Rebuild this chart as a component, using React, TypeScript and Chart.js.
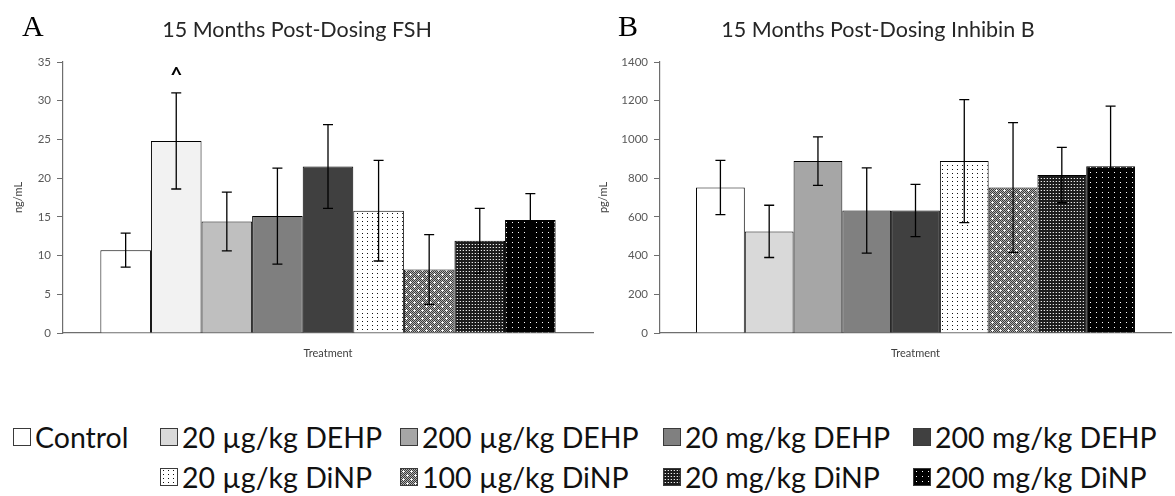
import React, { useEffect, useRef, useMemo } from 'react';
import { Chart, registerables } from 'chart.js';

Chart.register(...registerables);

// ---------- data ----------
const categories = [
  'Control',
  '20 µg/kg DEHP',
  '200 µg/kg DEHP',
  '20 mg/kg DEHP',
  '200 mg/kg DEHP',
  '20 µg/kg DiNP',
  '100 µg/kg DiNP',
  '20 mg/kg DiNP',
  '200 mg/kg DiNP',
];

const fshMeans = [10.7, 24.8, 14.4, 15.1, 21.5, 15.8, 8.2, 11.9, 14.6];
const fshErrors = [2.2, 6.2, 3.8, 6.2, 5.4, 6.5, 4.5, 4.2, 3.4];
const fshSignificant = [false, true, false, false, false, false, false, false, false];

const inhibinMeans = [752, 525, 888, 633, 633, 888, 752, 816, 862];
const inhibinErrors = [140, 135, 125, 220, 135, 318, 335, 143, 310];

const fshTitle = '15 Months Post-Dosing FSH';
const inhibinTitle = '15 Months Post-Dosing Inhibin B';
const fshUnit = 'ng/mL';
const inhibinUnit = 'pg/mL';
const xAxisTitle = 'Treatment';
const fshAxis = { min: 0, max: 35, step: 5 };
const inhibinAxis = { min: 0, max: 1400, step: 200 };

// ---------- styles ----------
const FONT = 'Lato, "Open Sans", sans-serif';
const fshSolid = ['#ffffff', '#f2f2f2', '#bfbfbf', '#7f7f7f', '#404040'];
const inhibinSolid = ['#ffffff', '#d9d9d9', '#a6a6a6', '#808080', '#404040'];
const patternKinds = ['sparseDots', 'checkPlus', 'denseGrid', 'blackDots'];

function makeTile(kind: string): HTMLCanvasElement {
  const c = document.createElement('canvas');
  let w = 4;
  let h = 4;
  if (kind === 'sparseDots') { w = 5; h = 4; }
  if (kind === 'checkPlus') { w = 8; h = 8; }
  if (kind === 'denseGrid') { w = 3; h = 3; }
  if (kind === 'blackDots') { w = 6; h = 5; }
  c.width = w;
  c.height = h;
  const ctx = c.getContext('2d')!;
  const px = (x: number, y: number, col: string) => {
    ctx.fillStyle = col;
    ctx.fillRect(x, y, 1, 1);
  };
  if (kind === 'sparseDots') {
    ctx.fillStyle = '#ffffff';
    ctx.fillRect(0, 0, w, h);
    px(2, 1, '#111111');
  } else if (kind === 'checkPlus') {
    for (let y = 0; y < h; y++)
      for (let x = 0; x < w; x++) px(x, y, (x + y) % 2 === 0 ? '#3a3a3a' : '#b0b0b0');
    const plus = (cx: number, cy: number) => {
      px(cx, cy, '#ffffff');
      px(cx - 1, cy, '#f0f0f0');
      px(cx + 1, cy, '#f0f0f0');
      px(cx, cy - 1, '#f0f0f0');
      px(cx, cy + 1, '#f0f0f0');
    };
    plus(2, 2);
    plus(6, 6);
  } else if (kind === 'denseGrid') {
    ctx.fillStyle = '#1c1c1c';
    ctx.fillRect(0, 0, w, h);
    px(1, 1, '#e8e8e8');
    px(0, 1, '#5a5a5a');
  } else if (kind === 'blackDots') {
    ctx.fillStyle = '#000000';
    ctx.fillRect(0, 0, w, h);
    px(2, 2, '#ffffff');
  }
  return c;
}

function fillFor(i: number, solid: string[], tiles: HTMLCanvasElement[], ctx: CanvasRenderingContext2D) {
  if (i < solid.length) return solid[i];
  return ctx.createPattern(tiles[i - solid.length], 'repeat')!;
}

type PanelProps = {
  letter: string;
  title: string;
  titleX: number;
  letterX: number;
  unit: string;
  means: number[];
  errors: number[];
  marks?: boolean[];
  axis: { min: number; max: number; step: number };
  solid: string[];
  width: number;
  height: number;
  yAxisWidth: number;
  unitPad: number;
  padRight: number;
};

function Panel(props: PanelProps) {
  const ref = useRef<HTMLCanvasElement | null>(null);
  useEffect(() => {
    const canvas = ref.current!;
    const ctx = canvas.getContext('2d')!;
    const tiles = patternKinds.map(makeTile);
    const datasets = categories.map((name, i) => ({
      label: name,
      data: [props.means[i]],
      backgroundColor: fillFor(i, props.solid, tiles, ctx),
      borderColor: '#000000',
      borderWidth: 1,
      categoryPercentage: 0.859,
      barPercentage: 1,
    }));

    const overlay = {
      id: 'overlay',
      afterDatasetsDraw(chart: any) {
        const c = chart.ctx;
        const yScale = chart.scales.y;
        c.save();
        c.strokeStyle = '#000000';
        c.lineWidth = 1.3;
        props.means.forEach((m, i) => {
          const bar = chart.getDatasetMeta(i).data[0];
          const x = bar.x;
          const top = yScale.getPixelForValue(m + props.errors[i]);
          const bot = yScale.getPixelForValue(Math.max(0, m - props.errors[i]));
          c.beginPath();
          c.moveTo(x, top);
          c.lineTo(x, bot);
          c.moveTo(x - 5, top);
          c.lineTo(x + 5, top);
          c.moveTo(x - 5, bot);
          c.lineTo(x + 5, bot);
          c.stroke();
          if (props.marks && props.marks[i]) {
            c.fillStyle = '#000000';
            c.font = 'bold 21px ' + FONT;
            c.textAlign = 'center';
            c.textBaseline = 'middle';
            c.fillText('^', x, top - 18);
          }
        });
        c.restore();
      },
      afterDraw(chart: any) {
        const c = chart.ctx;
        c.save();
        c.fillStyle = '#262626';
        c.font = '21.5px ' + FONT;
        c.textAlign = 'center';
        c.textBaseline = 'middle';
        c.fillText(props.title, props.titleX, 30);
        c.fillStyle = '#000000';
        c.font = '30px "Liberation Serif", "DejaVu Serif", serif';
        c.textAlign = 'left';
        c.fillText(props.letter, props.letterX, 28);
        c.restore();
      },
    };

    const chart = new Chart(canvas, {
      type: 'bar',
      data: { labels: [''], datasets },
      plugins: [overlay],
      options: {
        responsive: false,
        animation: false,
        layout: { padding: { top: 62, right: props.padRight, left: 0, bottom: 0 } },
        plugins: { legend: { display: false }, tooltip: { enabled: false }, title: { display: false } },
        scales: {
          x: {
            ticks: { display: false },
            grid: { display: false },
            border: { display: true, color: '#6e6e6e', width: 1.2 },
            title: {
              display: true,
              text: xAxisTitle,
              color: '#404040',
              font: { family: FONT, size: 11 },
              padding: { top: 0, bottom: 10 },
            },
            afterFit: (s: any) => { s.height = 37; },
          },
          y: {
            min: props.axis.min,
            max: props.axis.max,
            ticks: {
              stepSize: props.axis.step,
              color: '#595959',
              font: { family: FONT, size: 11.5 },
              padding: 6,
              callback: (v: any) => String(v),
            },
            grid: { drawOnChartArea: false, drawTicks: true, tickLength: 6, color: '#6e6e6e' },
            border: { display: true, color: '#6e6e6e', width: 1.2 },
            title: {
              display: true,
              text: props.unit,
              color: '#404040',
              font: { family: FONT, size: 11 },
              padding: { top: props.unitPad, bottom: 0 },
            },
            afterFit: (s: any) => { s.width = props.yAxisWidth; },
          },
        },
      } as any,
    });
    return () => chart.destroy();
  }, []);
  return <canvas ref={ref} width={props.width} height={props.height} style={{ width: props.width, height: props.height, display: 'block' }} />;
}

function Legend() {
  const urls = useMemo(() => patternKinds.map((k) => makeTile(k).toDataURL()), []);
  const rows = [
    { y: 421, items: [0, 1, 2, 3, 4], xs: [13, 160, 400, 663, 913] },
    { y: 461, items: [5, 6, 7, 8], xs: [160, 400, 663, 913] },
  ];
  return (
    <>
      {rows.map((row, r) =>
        row.items.map((idx, j) => {
          const bg = idx < inhibinSolid.length ? { background: inhibinSolid[idx] } : { backgroundImage: `url(${urls[idx - inhibinSolid.length]})` };
          return (
            <div
              key={`${r}-${j}`}
              style={{ position: 'absolute', left: row.xs[j], top: row.y, height: 32, display: 'flex', alignItems: 'center', whiteSpace: 'nowrap' }}
            >
              <div style={{ width: 16, height: 16, border: '1.5px solid #3a3a3a', boxSizing: 'content-box', ...bg }} />
              <span style={{ marginLeft: 4, fontFamily: FONT, fontSize: 28.5, color: '#111111', lineHeight: '32px' }}>{categories[idx]}</span>
            </div>
          );
        })
      )}
    </>
  );
}

export default function App() {
  return (
    <div style={{ position: 'absolute', left: 0, top: 0, width: 1175, height: 496, background: '#ffffff', overflow: 'hidden' }}>
      <div style={{ position: 'absolute', left: 0, top: 0 }}>
        <Panel
          letter="A"
          title={fshTitle}
          titleX={297}
          letterX={22}
          unit={fshUnit}
          means={fshMeans}
          errors={fshErrors}
          marks={fshSignificant}
          axis={fshAxis}
          solid={fshSolid}
          width={600}
          height={370}
          yAxisWidth={63}
          unitPad={12}
          padRight={7}
        />
      </div>
      <div style={{ position: 'absolute', left: 590, top: 0 }}>
        <Panel
          letter="B"
          title={inhibinTitle}
          titleX={288}
          letterX={28}
          unit={inhibinUnit}
          means={inhibinMeans}
          errors={inhibinErrors}
          axis={inhibinAxis}
          solid={inhibinSolid}
          width={585}
          height={370}
          yAxisWidth={70}
          unitPad={7}
          padRight={4}
        />
      </div>
      <Legend />
    </div>
  );
}
